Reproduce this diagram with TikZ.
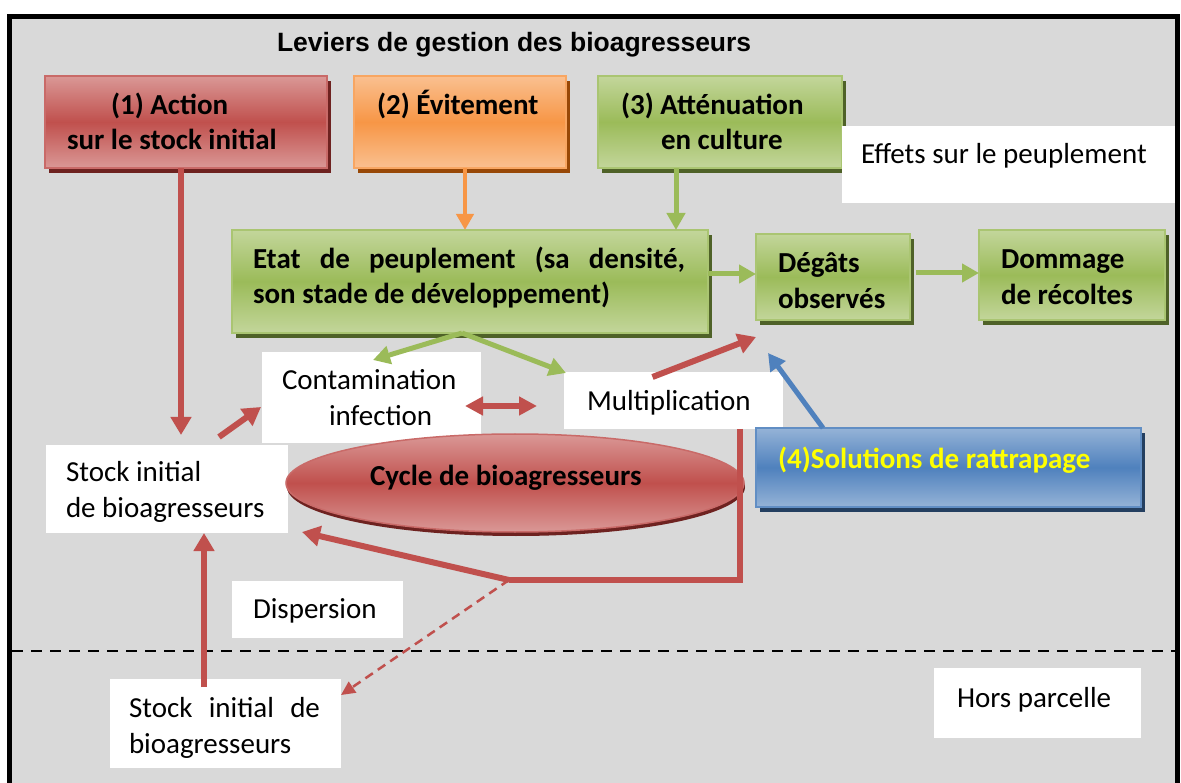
\documentclass[tikz,border=0pt]{standalone}
\usepackage{fontspec}
\setmainfont{Carlito}
\newfontfamily\arialfont{Liberation Sans}
\usetikzlibrary{shadows,arrows.meta,calc,shapes.geometric}

\definecolor{bggrey}{HTML}{D9D9D9}
\definecolor{rmain}{HTML}{C0504D}
\definecolor{rlight}{HTML}{DA9896}
\definecolor{rdark}{HTML}{6E2220}
\definecolor{omain}{HTML}{F79646}
\definecolor{olight}{HTML}{FAC090}
\definecolor{odark}{HTML}{984807}
\definecolor{gmain}{HTML}{9BBB59}
\definecolor{glight}{HTML}{C3D69B}
\definecolor{gdark}{HTML}{4F6228}
\definecolor{bmain}{HTML}{4F81BD}
\definecolor{blight}{HTML}{95B3D7}
\definecolor{bdark}{HTML}{243F60}
\definecolor{ytext}{HTML}{FFFF00}

\tikzset{
  plain/.style={inner sep=0pt, outer sep=0pt},
  wbox/.style={plain, fill=white, anchor=north west},
  lbl/.style={plain, anchor=base west, font=\fontsize{29}{36}\selectfont},
  blbl/.style={plain, anchor=base west, font=\fontsize{29}{36}\selectfont\bfseries},
  obox/.style n args={4}{plain, anchor=north west, draw=#1, line width=2.5pt,
    top color=#2, bottom color=#2, middle color=#3,
    drop shadow={shadow xshift=4pt, shadow yshift=-5pt, fill=#4, opacity=1}},
  redarrow/.style={draw=rmain, line width=6pt, -{Triangle[length=18pt,width=20pt]}},
  thinred/.style={draw=rmain, line width=2.5pt, dash pattern=on 9pt off 6pt, -{Triangle[length=14pt,width=13pt]}},
  grarrow/.style={draw=gmain, line width=5pt, -{Triangle[length=17pt,width=18pt]}},
  orarrow/.style={draw=omain, line width=4.5pt, -{Triangle[length=16pt,width=17pt]}},
  blarrow/.style={draw=bmain, line width=5pt, -{Triangle[length=17pt,width=18pt]}},
  dblarrow/.style={draw=rmain, line width=6pt, {Triangle[length=18pt,width=18pt]}-{Triangle[length=18pt,width=18pt]}},
  redline/.style={draw=rmain, line width=5.5pt},
}

\begin{document}
\begin{tikzpicture}[x=1pt,y=-1pt]
\useasboundingbox (0,0) rectangle (1181,783);
\fill[white] (0,0) rectangle (1181,783);
\fill[bggrey] (9.5,16.5) rectangle (1177.5,800);
\draw[line width=5.5pt] (9.5,800) -- (9.5,16.5) -- (1177.5,16.5) -- (1177.5,800);

% title
\node[plain, anchor=base west, font=\arialfont\bfseries\fontsize{26.5}{32}\selectfont] (title) at (277,52) {Leviers de gestion des bioagresseurs};

% top boxes
\node[obox={rmain!85!white}{rlight}{rmain}{rdark}, minimum width=282pt, minimum height=92pt] (b1) at (45,76) {};
\node[obox={omain!85!white}{olight}{omain}{odark}, minimum width=212pt, minimum height=92pt] (b2) at (354,76) {};
\node[obox={gmain!85!white}{glight}{gmain}{gdark}, minimum width=244pt, minimum height=92pt] (b3) at (598,76) {};
\node[blbl] (t1a) at (111,115) {(1) Action};
\node[blbl] (t1b) at (67,150) {sur le stock initial};
\node[blbl] (t2) at (377,115) {(2) Évitement};
\node[blbl] (t3a) at (621,115) {(3) Atténuation};
\node[blbl] (t3b) at (661,150) {en culture};

% effets
\node[wbox, minimum width=333pt, minimum height=77pt] (effets) at (842,126) {};
\node[lbl] (teffets) at (861,164) {Effets sur le peuplement};

% middle green boxes
\node[obox={gmain!85!white}{glight}{gmain}{gdark}, minimum width=476pt, minimum height=103pt] (etat) at (232,230) {};
\node[obox={gmain!85!white}{glight}{gmain}{gdark}, minimum width=154pt, minimum height=86pt] (degats) at (756,234) {};
\node[obox={gmain!85!white}{glight}{gmain}{gdark}, minimum width=186pt, minimum height=90pt] (dommage) at (979,230) {};
\node[blbl] (te1) at (253,269) {\makebox[432pt][s]{Etat de peuplement (sa densité,}};
\node[blbl] (te2) at (253,304) {son stade de développement)};
\node[blbl] (td1) at (778,273) {Dégâts};
\node[blbl] (td2) at (778,309) {observés};
\node[blbl] (tm1) at (1001,269) {Dommage};
\node[blbl] (tm2) at (1001,305) {de récoltes};

% white boxes
\node[wbox, minimum width=219pt, minimum height=91pt] (contam) at (262,352) {};
\node[lbl] (tc1) at (282,390) {Contamination};
\node[lbl] (tc2) at (329,426) {infection};
\node[wbox, minimum width=219pt, minimum height=57pt] (mult) at (564,372) {};
\node[lbl] (tmu) at (587,411) {Multiplication};
\node[wbox, minimum width=242pt, minimum height=88pt] (stock) at (46,445) {};
\node[lbl] (ts1) at (66,482) {Stock initial};
\node[lbl] (ts2) at (66,517) {de bioagresseurs};
\node[wbox, minimum width=171pt, minimum height=57pt] (disp) at (232,581) {};
\node[lbl] (tdisp) at (253,618) {Dispersion};
\node[wbox, minimum width=231pt, minimum height=89pt] (stock2) at (110,679) {};
\node[lbl] (ts3) at (129,717) {\makebox[191pt][s]{Stock initial de}};
\node[lbl] (ts4) at (129,753) {bioagresseurs};
\node[wbox, minimum width=207pt, minimum height=70pt] (hors) at (934,668) {};
\node[lbl] (thors) at (957,707) {Hors parcelle};

% ellipse
\node[plain, ellipse, draw=rmain!85!white, line width=1.5pt, top color=rlight, bottom color=rlight, middle color=rmain,
  minimum width=458pt, minimum height=98pt,
  drop shadow={shadow xshift=1pt, shadow yshift=-4pt, fill=rdark, opacity=1}] (cycle) at (515,483) {};
\node[blbl] (tcycle) at (370,485) {Cycle de bioagresseurs};

% solutions
\node[obox={bmain!90!white}{blight}{bmain}{bdark}, minimum width=385pt, minimum height=79pt] (sol) at (756,428) {};
\node[blbl, text=ytext] (tsol) at (778,468) {(4)Solutions de rattrapage};

% dashed boundary
\coordinate (dl) at (12,651);
\coordinate (dr) at (1175,651);
\draw[line width=2.5pt, dash pattern=on 11pt off 8pt] (dl) -- (dr);

% arrows
\coordinate (a2) at ($(b2.south)+(5,0)$);
\coordinate (a3) at ($(b3.south)+(-44,0)$);
\draw[redarrow] ($(b1.south)+(-5,0)$) -- ($(stock.north)+(14,-10)$);
\draw[orarrow] (a2) -- (a2 |- etat.north);
\draw[grarrow] (a3) -- (a3 |- etat.north);
\draw[grarrow] (etat.east |- 0,274) -- ($(degats.west)+(0,-3)$);
\draw[grarrow] ($(degats.east)+(6,-4)$) -- ($(dommage.west)+(0,-2)$);
\draw[grarrow] ($(etat.south)+(-8,0)$) -- ($(contam.north)+(1.5,8)$);
\draw[grarrow] ($(etat.south)+(-8,0)$) -- ($(mult.north west)+(2,1)$);
\draw[redarrow] ($(stock.north)+(52,-8)$) -- ($(contam.west)+(-1,9.5)$);
\draw[dblarrow] ($(contam.east)+(-16,8.5)$) -- ($(mult.west)+(-27,5.5)$);
\draw[redarrow] ($(mult.north)+(-21,5)$) -- ($(degats.south west)+(0,17)$);
\draw[blarrow] ($(sol.north)+(-125.5,0)$) -- ($(degats.south west)+(12,33)$);

\coordinate (m1) at ($(mult.south)+(66.5,0)$);
\coordinate (m2) at ($(m1)+(0,151)$);
\coordinate (split) at (509,580);
\draw[redline, line join=miter] (m1) -- (m2) -- (split);
\draw[redarrow] (split) -- ($(stock.south east)+(14,-1)$);
\draw[thinred] (split) -- ($(stock2.north east)+(0,16)$);
\draw[redarrow] ($(stock2.north)+(-21.5,8)$) -- ($(stock.south)+(37,0)$);

\end{tikzpicture}
\end{document}
